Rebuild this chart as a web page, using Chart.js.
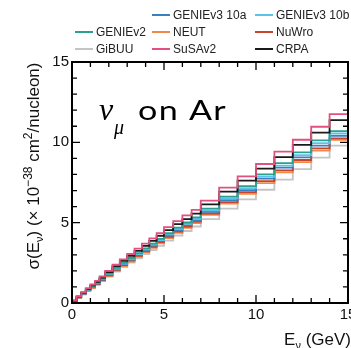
<!DOCTYPE html>
<html>
<head>
<meta charset="utf-8">
<script src="https://cdn.jsdelivr.net/npm/chart.js@4"></script>
<style>
  html, body { margin: 0; padding: 0; background: #fff; overflow: hidden; }
  #wrap { width: 370px; height: 348px; }
</style>
</head>
<body>
<div id="wrap"><canvas id="xsecChart"></canvas></div>
<script>
// bin edges in GeV
const binEdges = [0, 0.25, 0.5, 0.75, 1.0, 1.25, 1.5, 1.8, 2.2, 2.6, 3.0, 3.4, 3.8, 4.2, 4.6, 5.0, 5.5, 6.0, 6.5, 7, 8, 9, 10, 11, 12, 13, 14, 15];

// sigma per nucleon, 10^-38 cm^2, one value per bin
const susav2   = [0.15, 0.42, 0.68, 0.92, 1.15, 1.38, 1.65, 2.00, 2.38, 2.72, 3.05, 3.38, 3.70, 4.02, 4.34, 4.72, 5.10, 5.45, 5.79, 6.37, 7.18, 7.88, 8.65, 9.42, 10.16, 10.97, 11.76];
const crpa     = [0.14, 0.40, 0.65, 0.88, 1.10, 1.32, 1.58, 1.92, 2.29, 2.62, 2.94, 3.25, 3.56, 3.87, 4.18, 4.54, 4.91, 5.22, 5.56, 6.14, 6.93, 7.62, 8.36, 9.08, 9.84, 10.60, 11.38];
const geniev2  = [0.12, 0.37, 0.61, 0.84, 1.05, 1.26, 1.51, 1.83, 2.18, 2.50, 2.80, 3.10, 3.40, 3.69, 3.99, 4.34, 4.69, 5.01, 5.33, 5.87, 6.62, 7.28, 8.00, 8.70, 9.38, 10.12, 10.70];
const genie10b = [0.11, 0.36, 0.60, 0.82, 1.03, 1.24, 1.48, 1.80, 2.14, 2.45, 2.75, 3.05, 3.34, 3.63, 3.92, 4.27, 4.61, 4.93, 5.24, 5.77, 6.51, 7.15, 7.86, 8.55, 9.20, 9.95, 10.55];
const genie10a = [0.11, 0.35, 0.58, 0.80, 1.01, 1.21, 1.45, 1.76, 2.10, 2.41, 2.70, 2.99, 3.28, 3.57, 3.86, 4.20, 4.53, 4.85, 5.15, 5.67, 6.40, 7.03, 7.74, 8.42, 9.07, 9.80, 10.40];
const nuwro    = [0.12, 0.35, 0.57, 0.78, 0.98, 1.18, 1.42, 1.72, 2.06, 2.36, 2.65, 2.94, 3.22, 3.50, 3.79, 4.12, 4.45, 4.76, 5.06, 5.57, 6.28, 6.90, 7.58, 8.26, 8.90, 9.62, 10.25];
const neut     = [0.10, 0.32, 0.54, 0.75, 0.95, 1.14, 1.38, 1.67, 2.00, 2.30, 2.58, 2.87, 3.15, 3.43, 3.71, 4.04, 4.37, 4.68, 4.98, 5.48, 6.19, 6.80, 7.46, 8.13, 8.77, 9.48, 10.15];
const gibuu    = [0.16, 0.42, 0.62, 0.80, 0.98, 1.15, 1.37, 1.65, 1.96, 2.24, 2.51, 2.78, 3.04, 3.30, 3.56, 3.88, 4.20, 4.48, 4.76, 5.22, 5.88, 6.45, 7.05, 7.68, 8.33, 9.05, 9.80];

const xTicks = [0, 5, 10, 15];
const yTicks = [0, 5, 10, 15];

// legend grid, null = empty slot
const legendRows = [
  [null, 'GENIEv3 10a', 'GENIEv3 10b'],
  ['GENIEv2', 'NEUT', 'NuWro'],
  ['GiBUU', 'SuSAv2', 'CRPA']
];

// histogram as step line: one point per lower edge plus the closing edge
function toSteps(values) {
  const pts = values.map((v, i) => ({ x: binEdges[i], y: v }));
  pts.push({ x: binEdges[binEdges.length - 1], y: values[values.length - 1] });
  return pts;
}

function series(label, values, color) {
  return {
    label: label,
    data: toSteps(values),
    borderColor: color,
    backgroundColor: color,
    borderWidth: 1.8,
    pointRadius: 0,
    fill: false,
    stepped: 'before',
    tension: 0
  };
}

// draws a row of text pieces with their own font and vertical shift
function drawRuns(ctx, runs, x, y, align) {
  let total = 0;
  runs.forEach(r => { ctx.font = r.font; total += ctx.measureText(r.t).width; });
  let cx = align === 'right' ? x - total : align === 'center' ? x - total / 2 : x;
  ctx.textAlign = 'left';
  ctx.textBaseline = 'alphabetic';
  runs.forEach(r => {
    ctx.font = r.font;
    ctx.fillText(r.t, cx, y + (r.dy || 0));
    cx += ctx.measureText(r.t).width;
  });
}

const SANS = "'Liberation Sans', Arial, sans-serif";
const SERIF = "'Liberation Serif', 'Times New Roman', serif";

const decorations = {
  id: 'decorations',
  afterDraw(chart) {
    const { ctx, chartArea: a, scales: { x, y } } = chart;
    ctx.save();

    // frame with inward ticks on all four sides
    ctx.strokeStyle = '#000';
    ctx.lineWidth = 2;
    ctx.strokeRect(a.left, a.top, a.right - a.left, a.bottom - a.top);
    ctx.lineWidth = 1.3;
    ctx.beginPath();
    for (let v = 0; v <= 15; v++) {
      const len = v % 5 === 0 ? 8 : 5;
      const px = x.getPixelForValue(v);
      ctx.moveTo(px, a.bottom); ctx.lineTo(px, a.bottom - len);
      ctx.moveTo(px, a.top); ctx.lineTo(px, a.top + len);
      const py = y.getPixelForValue(v);
      ctx.moveTo(a.left, py); ctx.lineTo(a.left + len, py);
      ctx.moveTo(a.right, py); ctx.lineTo(a.right - len, py);
    }
    ctx.stroke();

    ctx.fillStyle = '#111';

    // y title
    ctx.save();
    ctx.translate(39, 166);
    ctx.rotate(-Math.PI / 2);
    drawRuns(ctx, [
      { t: 'σ(E', font: `17px ${SANS}` },
      { t: 'ν', font: `11px ${SANS}`, dy: 4 },
      { t: ') (× 10', font: `17px ${SANS}` },
      { t: '−38', font: `12px ${SANS}`, dy: -7 },
      { t: ' cm', font: `17px ${SANS}` },
      { t: '2', font: `12px ${SANS}`, dy: -7 },
      { t: '/nucleon)', font: `17px ${SANS}` }
    ], 0, 0, 'center');
    ctx.restore();

    // x title
    drawRuns(ctx, [
      { t: 'E', font: `17px ${SANS}` },
      { t: 'ν', font: `11px ${SANS}`, dy: 4 },
      { t: ' (GeV)', font: `17px ${SANS}` }
    ], 351, 345, 'right');

    // process label inside the frame
    ctx.fillStyle = '#000';
    ctx.font = `italic 32px ${SERIF}`;
    ctx.fillText('ν', 99, 120);
    ctx.font = `italic 20px ${SERIF}`;
    ctx.fillText('μ', 114, 134);
    ctx.save();
    ctx.font = `400 26px Lato, 'Noto Sans', sans-serif`;
    ctx.letterSpacing = '1px';
    const w = ctx.measureText('on Ar').width;
    ctx.translate(138, 120);
    ctx.scale(89 / w, 1);
    ctx.fillText('on Ar', 0, 0);
    ctx.restore();

    // legend
    const colX = [75, 152, 255];
    const rowY = [15, 32, 49];
    const byLabel = {};
    chart.data.datasets.forEach(d => { byLabel[d.label] = d.borderColor; });
    ctx.font = `12px ${SANS}`;
    ctx.textBaseline = 'middle';
    ctx.lineWidth = 2;
    legendRows.forEach((row, r) => {
      row.forEach((label, c) => {
        if (!label) return;
        ctx.strokeStyle = byLabel[label];
        ctx.beginPath();
        ctx.moveTo(colX[c], rowY[r]);
        ctx.lineTo(colX[c] + 18, rowY[r]);
        ctx.stroke();
        ctx.fillStyle = '#222';
        ctx.fillText(label, colX[c] + 21, rowY[r] + 0.5);
      });
    });

    ctx.restore();
  }
};

function createChart() {
  const ctx = document.getElementById('xsecChart').getContext('2d');
  new Chart(ctx, {
    type: 'line',
    data: {
      datasets: [
        series('SuSAv2', susav2, '#e4507e'),
        series('CRPA', crpa, '#1a1a1a'),
        series('GENIEv2', geniev2, '#2e9e8f'),
        series('GENIEv3 10b', genie10b, '#5cc3e8'),
        series('GENIEv3 10a', genie10a, '#3c7fc0'),
        series('NuWro', nuwro, '#c9452a'),
        series('NEUT', neut, '#f0894a'),
        series('GiBUU', gibuu, '#c4c4c4')
      ]
    },
    options: {
      responsive: true,
      maintainAspectRatio: false,
      animation: false,
      layout: { padding: { top: 62, right: 22, left: 0, bottom: 0 } },
      plugins: {
        legend: { display: false },
        tooltip: { enabled: false }
      },
      scales: {
        x: {
          type: 'linear',
          min: 0,
          max: 15,
          afterFit: s => { s.height = 45; },
          afterBuildTicks: s => { s.ticks = xTicks.map(v => ({ value: v })); },
          grid: { display: false, drawTicks: false },
          border: { display: false },
          ticks: { color: '#111', font: { size: 15, family: SANS }, padding: 3, maxRotation: 0 }
        },
        y: {
          min: 0,
          max: 15,
          afterFit: s => { s.width = 72; },
          afterBuildTicks: s => { s.ticks = yTicks.map(v => ({ value: v })); },
          grid: { display: false, drawTicks: false },
          border: { display: false },
          ticks: { color: '#111', font: { size: 15, family: SANS }, padding: 3 }
        }
      }
    },
    plugins: [decorations]
  });
}

window.onload = createChart;
</script>
</body>
</html>
